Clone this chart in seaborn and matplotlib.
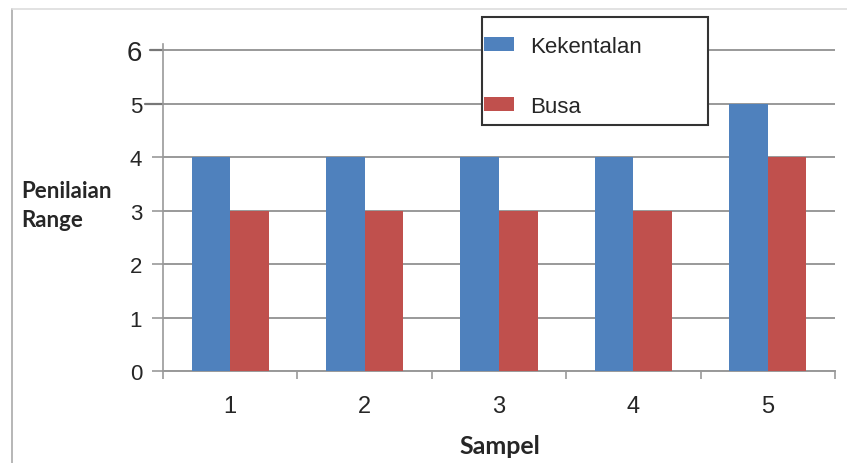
import matplotlib
matplotlib.use("Agg")
import matplotlib.pyplot as plt
from matplotlib.patches import Patch, Rectangle
from matplotlib.lines import Line2D
import seaborn as sns
import pandas as pd

categories = ["1", "2", "3", "4", "5"]
kekentalan = [4, 4, 4, 4, 5]
busa = [3, 3, 3, 3, 4]
series_names = ["Kekentalan", "Busa"]
colors = ["#4F81BD", "#C0504D"]
y_ticks = [0, 1, 2, 3, 4, 5, 6]

df = pd.DataFrame({
    "Sampel": categories * 2,
    "Nilai": kekentalan + busa,
    "Seri": [series_names[0]] * len(categories) + [series_names[1]] * len(categories),
})

sns.set_style("white")
plt.rcParams["font.family"] = ["Liberation Sans", "DejaVu Sans"]

W, H = 847, 464
fig = plt.figure(figsize=(W / 100, H / 100), dpi=100)
ax = fig.add_axes([163 / W, 1 - 372 / H, (835 - 163) / W, (372 - 44.6) / H])

sns.barplot(data=df, x="Sampel", y="Nilai", hue="Seri", palette=colors,
            width=0.573, saturation=1, ax=ax, legend=False, zorder=3,
            edgecolor="none", linewidth=0)

ax.set_xlim(-0.5, 4.5)
ax.set_ylim(0, 6.12)
ax.set_yticks(y_ticks)
ax.set_yticklabels([str(v) for v in y_ticks])
for lbl in ax.get_yticklabels():
    lbl.set_fontsize(20 if lbl.get_text() == "6" else 16)
ax.tick_params(axis="y", length=8, width=1.2, color="#999999", pad=7, direction="out", left=True)
ax.tick_params(axis="x", length=0, labelsize=17, pad=17)
ax.set_xticks(range(len(categories)))
ax.set_xticks([i - 0.5 for i in range(len(categories) + 1)], minor=True)
ax.tick_params(axis="x", which="minor", length=6, width=1.2, color="#999999", direction="out", bottom=True)

ax.grid(axis="y", color="#999999", linewidth=1.4, zorder=0)
ax.set_axisbelow(True)
for s in ["top", "right"]:
    ax.spines[s].set_visible(False)
ax.spines["left"].set_color("#999999")
ax.spines["left"].set_linewidth(1.2)
ax.spines["bottom"].set_color("#999999")
ax.spines["bottom"].set_linewidth(1.4)
ax.set_xlabel("")
ax.set_ylabel("")

# extended gridlines at 5 and 6 reaching towards the tick labels
for yv, ext in [(6, 13), (5, 18)]:
    ax.add_line(Line2D([-ext / 672, 0], [yv, yv], transform=ax.get_yaxis_transform(),
                       color="#777777", linewidth=1.6, clip_on=False))

fig.text(500 / W, 1 - 447 / H, "Sampel", ha="center", va="center",
         fontsize=18, fontweight="bold", family=["Lato", "DejaVu Sans"])
fig.text(21 / W, 1 - 198 / H, "Penilaian", ha="left", va="baseline",
         fontsize=16, fontweight="bold", family=["Lato", "DejaVu Sans"])
fig.text(21 / W, 1 - 227 / H, "Range", ha="left", va="baseline",
         fontsize=16, fontweight="bold", family=["Lato", "DejaVu Sans"])

# legend frame
frame = Rectangle((482 / W, 1 - 126 / H), (708 - 482) / W, (126 - 18) / H,
                  transform=fig.transFigure, facecolor="white", edgecolor="#333333",
                  linewidth=1.5, zorder=4)
fig.add_artist(frame)

handles = [Patch(facecolor=c, edgecolor="none") for c in colors]
leg = fig.legend(handles, series_names, loc="upper left",
                 bbox_to_anchor=(484 / W, 1 - 37 / H), frameon=False,
                 fontsize=16, handlelength=1.36, handleheight=0.55,
                 handletextpad=0.7, labelspacing=1.75, borderpad=0,
                 borderaxespad=0)
leg.set_zorder(5)

# figure border (left and top)
fig.add_artist(Line2D([12 / W, 12 / W], [0, 1 - 10 / H], transform=fig.transFigure,
                      color="#aaaaaa", linewidth=1.2))
fig.add_artist(Line2D([12 / W, 1], [1 - 10 / H, 1 - 10 / H], transform=fig.transFigure,
                      color="#dddddd", linewidth=1.2))

fig.savefig("out.png", dpi=100)
